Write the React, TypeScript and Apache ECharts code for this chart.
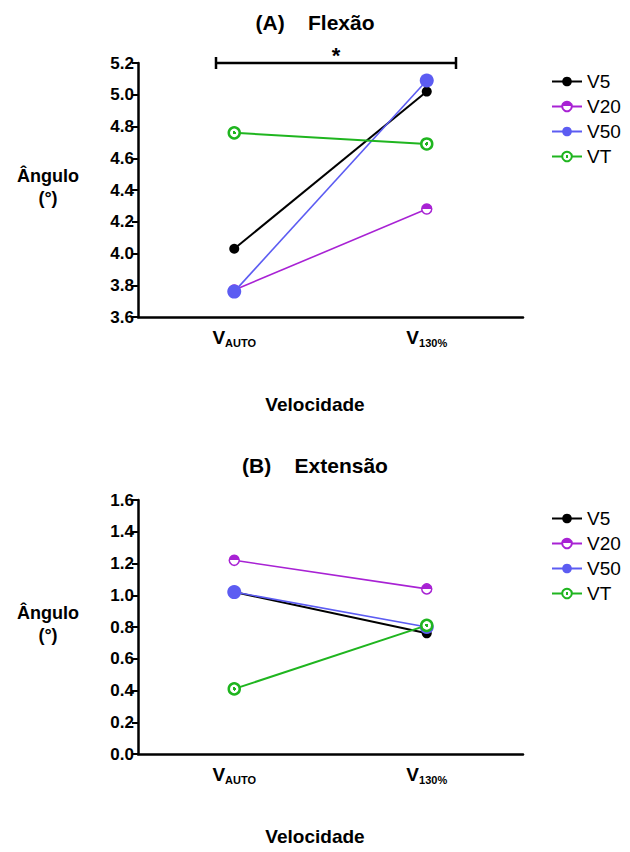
import React, { useEffect, useRef } from "react";
import * as echarts from "echarts";

const categories = ["AUTO", "130%"];
const seriesNames = ["V5", "V20", "V50", "VT"];

// (A) Flexão
const flexV5 = [4.03, 5.02];
const flexV20 = [3.77, 4.28];
const flexV50 = [3.76, 5.09];
const flexVT = [4.76, 4.69];

// (B) Extensão
const extV5 = [1.02, 0.76];
const extV20 = [1.22, 1.04];
const extV50 = [1.02, 0.8];
const extVT = [0.41, 0.81];

const flexRange = [3.6, 5.2];
const extRange = [0, 1.6];
const tickStep = 0.2;

const FONT = "'Liberation Sans', Arial, sans-serif";
const PURPLE = "#a822d4";
const BLUE = "#5c5cf2";
const GREEN = "#1fb51f";

export default function App() {
  const ref = useRef<HTMLDivElement>(null);
  useEffect(() => {
    document.body.style.margin = "0";
    const chart = echarts.init(ref.current!, null, { renderer: "svg" });

    const gridLeft = 138;
    const gridRight = 107;
    const gridA = { top: 63, height: 254 };
    const gridB = { top: 500, height: 254 };

    const styleFor = (name: string) => {
      if (name === "V5")
        return {
          symbol: "circle",
          symbolSize: 10,
          itemStyle: { color: "#000" },
          lineStyle: { color: "#000", width: 2 },
        };
      if (name === "V20")
        return {
          symbol: "circle",
          symbolSize: 10,
          itemStyle: {
            color: {
              type: "linear",
              x: 0,
              y: 0,
              x2: 0,
              y2: 1,
              colorStops: [
                { offset: 0, color: PURPLE },
                { offset: 0.5, color: PURPLE },
                { offset: 0.5, color: "#fff" },
                { offset: 1, color: "#fff" },
              ],
            },
            borderColor: PURPLE,
            borderWidth: 1.5,
          },
          lineStyle: { color: PURPLE, width: 1.6 },
        };
      if (name === "V50")
        return {
          symbol: "circle",
          symbolSize: 14,
          itemStyle: { color: BLUE },
          lineStyle: { color: BLUE, width: 1.6 },
        };
      return {
        symbol: "circle",
        symbolSize: 11,
        itemStyle: {
          color: {
            type: "radial",
            x: 0.5,
            y: 0.5,
            r: 0.5,
            colorStops: [
              { offset: 0, color: GREEN },
              { offset: 0.3, color: GREEN },
              { offset: 0.3, color: "#fff" },
              { offset: 1, color: "#fff" },
            ],
          },
          borderColor: GREEN,
          borderWidth: 2.5,
        },
        lineStyle: { color: GREEN, width: 2 },
      };
    };

    const flexData = [flexV5, flexV20, flexV50, flexVT];
    const extData = [extV5, extV20, extV50, extVT];

    const series: any[] = [];
    seriesNames.forEach((n, i) => {
      series.push({
        type: "line",
        name: n,
        xAxisIndex: 0,
        yAxisIndex: 0,
        data: flexData[i],
        ...styleFor(n),
      });
    });
    seriesNames.forEach((n, i) => {
      series.push({
        type: "line",
        name: n,
        xAxisIndex: 1,
        yAxisIndex: 1,
        data: extData[i],
        ...styleFor(n),
      });
    });

    const xAxisBase = (gridIndex: number) => ({
      type: "category",
      gridIndex,
      data: categories,
      boundaryGap: true,
      axisLine: { lineStyle: { color: "#000", width: 2.5 } },
      axisTick: { alignWithLabel: true, length: 7, lineStyle: { color: "#000", width: 2 } },
      axisLabel: {
        margin: 9,
        formatter: (v: string) => `{v|V}{s|${v}}`,
        rich: {
          v: { fontSize: 19, fontWeight: "bold", color: "#000", fontFamily: FONT, lineHeight: 22 },
          s: {
            fontSize: 11,
            fontWeight: "bold",
            color: "#000",
            fontFamily: FONT,
            verticalAlign: "bottom",
            lineHeight: 12,
          },
        },
      },
      splitLine: { show: false },
    });

    const yAxisBase = (gridIndex: number, range: number[]) => ({
      type: "value",
      gridIndex,
      min: range[0],
      max: range[1],
      interval: tickStep,
      axisLine: { show: true, lineStyle: { color: "#000", width: 2.5 } },
      axisTick: { show: true, length: 6, lineStyle: { color: "#000", width: 2 } },
      axisLabel: {
        margin: 4,
        fontSize: 17,
        fontWeight: "bold",
        color: "#000",
        fontFamily: FONT,
        formatter: (v: number) => v.toFixed(1),
      },
      splitLine: { show: false },
    });

    const legendBase = (top: number) => ({
      left: 546,
      top,
      orient: "vertical",
      data: seriesNames,
      itemWidth: 30,
      itemHeight: 12,
      itemGap: 6,
      selectedMode: false,
      textStyle: { fontSize: 19, color: "#000", fontFamily: FONT },
    });

    const axisName = (cy: number) => ({
      type: "text",
      x: 48,
      y: cy,
      style: {
        text: "Ângulo\n(°)",
        font: `bold 18px ${FONT}`,
        fill: "#000",
        align: "center",
        verticalAlign: "middle",
        lineHeight: 22,
      },
    });

    chart.setOption({
      animation: false,
      backgroundColor: "#fff",
      title: [
        {
          text: "(A)    Flexão",
          left: "center",
          top: 7,
          textStyle: { fontSize: 21, fontWeight: "bold", color: "#000", fontFamily: FONT },
        },
        {
          text: "(B)    Extensão",
          left: "center",
          top: 450,
          textStyle: { fontSize: 21, fontWeight: "bold", color: "#000", fontFamily: FONT },
        },
      ],
      grid: [
        { left: gridLeft, right: gridRight, top: gridA.top, height: gridA.height },
        { left: gridLeft, right: gridRight, top: gridB.top, height: gridB.height },
      ],
      xAxis: [xAxisBase(0), xAxisBase(1)],
      yAxis: [yAxisBase(0, flexRange), yAxisBase(1, extRange)],
      legend: [legendBase(67), legendBase(504)],
      series,
      graphic: [
        axisName(187),
        axisName(624),
        {
          type: "text",
          left: "center",
          top: 395,
          style: { text: "Velocidade", font: `bold 19px ${FONT}`, fill: "#000" },
        },
        {
          type: "text",
          left: "center",
          top: 827,
          style: { text: "Velocidade", font: `bold 19px ${FONT}`, fill: "#000" },
        },
        // significance bar
        {
          type: "group",
          children: [
            { type: "line", shape: { x1: 216, y1: 63, x2: 456, y2: 63 }, style: { stroke: "#000", lineWidth: 2.5 } },
            { type: "line", shape: { x1: 216, y1: 57, x2: 216, y2: 69 }, style: { stroke: "#000", lineWidth: 2.5 } },
            { type: "line", shape: { x1: 456, y1: 57, x2: 456, y2: 69 }, style: { stroke: "#000", lineWidth: 2.5 } },
            {
              type: "text",
              x: 336,
              y: 44,
              style: { text: "*", font: `bold 22px ${FONT}`, fill: "#000", align: "center" },
            },
          ],
        },
      ],
    });

    return () => chart.dispose();
  }, []);
  return <div ref={ref} style={{ width: 630, height: 852 }} />;
}
